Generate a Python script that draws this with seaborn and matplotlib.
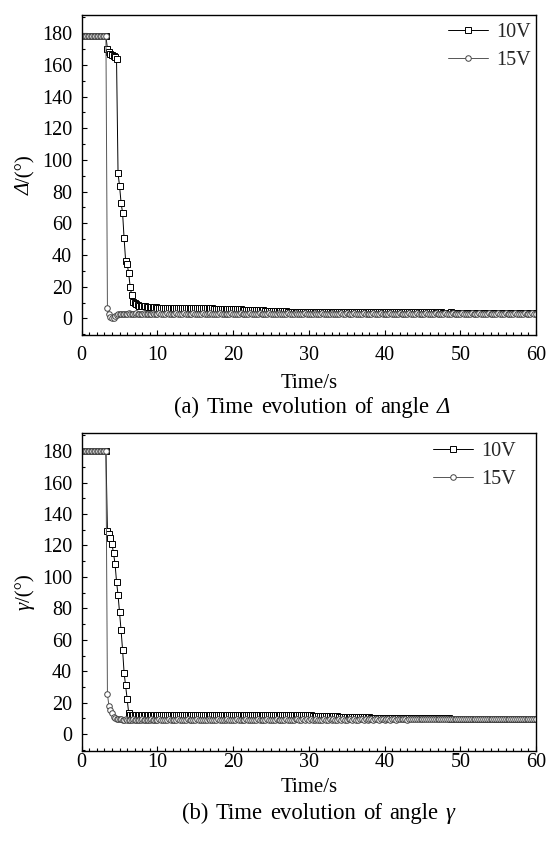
import numpy as np
import matplotlib
matplotlib.use("Agg")
import matplotlib.pyplot as plt
import matplotlib.transforms as mtransforms
from matplotlib.ticker import MultipleLocator
import seaborn as sns

# ---------------- data ----------------
# sample instants: 0.2 s steps up to 9.8 s, then 0.25 s steps to 60 s
time_fast = np.round(np.arange(50) * 0.2, 2)
time_tail = np.round(10.0 + np.arange(201) * 0.25, 2)
time_s = np.concatenate([time_fast, time_tail])

series_labels = ["10V", "15V"]

delta_10v_fast = [178, 178, 178, 178, 178, 178, 178, 178, 178, 178, 178, 178, 178, 178, 178, 178, 178,
                  170, 168, 167, 166, 165.5, 165, 163.5,
                  91.5, 83.5, 73, 66.5, 50.5, 36.5, 34.5, 28.5, 20, 14.5, 10.5,
                  9.5, 8.8, 8.4, 8.1, 7.9, 7.7, 7.6, 7.5, 7.4, 7.3, 7.2, 7.1, 7.0, 7.0, 6.9]
delta_10v_tail = [
    6.8, 6.8, 6.8, 6.7, 6.7, 6.7, 6.7, 6.6, 6.6, 6.6, 6.6, 6.6, 6.5, 6.5, 6.5, 6.5, 6.5, 6.5, 6.4, 6.4,
    6.4, 6.4, 6.4, 6.4, 6.3, 6.3, 6.3, 6.3, 6.3, 6.3, 6.2, 6.2, 6.2, 6.2, 6.2, 6.1, 6.1, 6.1, 6.1, 6.0,
    6.0, 6.0, 5.9, 5.9, 5.9, 5.3, 5.3, 5.2, 5.2, 5.2, 5.1, 5.1, 5.1, 5.0, 5.0, 5.0, 5.0, 4.9, 4.9, 4.9,
    4.9, 4.8, 4.8, 4.7, 4.5, 4.5, 4.4, 4.4, 4.4, 4.3, 4.3, 4.3, 4.3, 4.2, 4.2, 4.2, 4.2, 4.2, 4.2, 4.1,
    4.1, 4.2, 4.2, 4.1, 4.1, 4.1, 4.1, 4.0, 4.0, 4.1, 4.1, 4.1, 4.0, 4.0, 4.0, 4.0, 4.1, 4.0, 4.0, 4.0,
    4.0, 4.0, 4.1, 4.0, 4.0, 4.0, 3.9, 3.9, 4.0, 4.0, 4.0, 3.9, 3.9, 3.9, 4.0, 4.0, 3.9, 3.9, 3.9, 3.9,
    3.9, 4.0, 3.9, 3.9, 3.9, 3.9, 3.9, 3.9, 3.8, 3.9, 3.9, 3.9, 3.8, 3.8, 3.9, 3.9, 3.8, 3.8, 3.8, 3.8,
    3.8, 3.8, 3.8, 3.9, 3.8, 3.8, 3.8, 3.7, 3.8, 3.8, 3.8, 3.7, 3.7, 3.7, 3.7, 3.8, 3.7, 3.7, 3.7, 3.6,
    3.7, 3.7, 3.7, 3.6, 3.6, 3.6, 3.7, 3.6, 3.6, 3.6, 3.6, 3.6, 3.7, 3.6, 3.6, 3.6, 3.5, 3.6, 3.6, 3.6,
    3.6, 3.5, 3.5, 3.6, 3.6, 3.6, 3.5, 3.5, 3.6, 3.6, 3.6, 3.5, 3.6, 3.6, 3.5, 3.6, 3.6, 3.6, 3.5, 3.6,
    3.6]

delta_15v_fast = [178, 178, 178, 178, 178, 178, 178, 178, 178, 178, 178, 178, 178, 178, 178, 178, 178,
                  6.3, 2.7, 0.6, 0.0, 0.5, 1.5, 2.2, 2.6, 2.8, 2.9,
                  3.0, 3.0, 2.9, 3.0, 3.1, 3.0, 2.9, 3.0, 3.0, 3.1, 3.0, 2.9, 2.9, 3.0, 3.1,
                  3.0, 3.0, 2.9, 3.0, 3.0, 3.1, 3.0, 3.0]
delta_15v_tail = [
    3.0, 3.1, 3.0, 2.9, 3.0, 3.1, 3.0, 3.0, 2.9, 3.0, 3.1, 3.0, 2.9, 3.0, 3.1, 3.0, 3.0, 2.9, 3.0, 3.1,
    3.0, 2.9, 3.0, 3.0, 3.1, 3.0, 2.9, 3.0, 3.1, 3.0, 3.0, 2.9, 3.0, 3.1, 3.0, 3.0, 2.9, 3.0, 3.0, 3.1,
    3.0, 2.9, 3.0, 3.0, 3.1, 3.0, 2.9, 2.9, 3.0, 3.1, 3.0, 3.0, 2.9, 3.0, 3.1, 3.0, 2.9, 3.0, 3.0, 3.1,
    3.0, 2.9, 3.0, 3.0, 3.1, 3.0, 3.0, 2.9, 3.0, 3.1, 3.0, 2.9, 3.0, 3.1, 3.0, 2.9, 3.0, 3.0, 3.1, 3.0,
    2.9, 3.0, 3.0, 3.1, 3.0, 2.9, 3.0, 3.1, 3.0, 3.0, 2.9, 3.0, 3.1, 3.0, 3.0, 2.9, 3.0, 3.1, 3.0, 3.0,
    3.1, 3.0, 2.9, 3.0, 3.1, 3.0, 3.0, 2.9, 3.0, 3.1, 3.0, 2.9, 3.0, 3.0, 3.1, 3.0, 2.9, 3.0, 3.1, 3.0,
    3.0, 2.9, 3.0, 3.1, 3.0, 3.0, 2.9, 3.0, 3.1, 3.0, 2.9, 3.0, 3.0, 3.1, 3.0, 2.9, 3.0, 3.1, 3.0, 3.0,
    2.9, 3.0, 3.1, 3.0, 3.0, 2.9, 3.0, 3.1, 3.0, 2.9, 3.0, 3.0, 3.1, 3.0, 2.9, 3.0, 3.1, 3.0, 3.0, 2.9,
    3.0, 3.1, 3.0, 2.9, 3.0, 3.0, 3.1, 3.0, 2.9, 3.0, 3.1, 3.0, 3.0, 2.9, 3.0, 3.1, 3.0, 2.9, 3.0, 3.0,
    3.1, 3.0, 2.9, 3.0, 3.1, 3.0, 3.0, 2.9, 3.0, 3.1, 3.0, 2.9, 3.0, 3.0, 3.1, 3.0, 2.9, 3.0, 3.1, 3.0,
    3.0]

gamma_10v_fast = [180, 180, 180, 180, 180, 180, 180, 180, 180, 180, 180, 180, 180, 180, 180, 180, 180,
                  129, 127, 124.5, 121, 115, 108.5, 97, 88.5, 77.5, 66, 53.5, 39, 31, 22.5, 13.7, 12.5,
                  12.3, 12.2, 12.2, 12.3, 12.2, 12.1, 12.2, 12.3, 12.2, 12.2, 12.3, 12.2, 12.1, 12.2,
                  12.3, 12.2, 12.2]
gamma_10v_tail = [
    12.3, 12.2, 12.3, 12.3, 12.4, 12.3, 12.2, 12.3, 12.3, 12.4, 12.3, 12.2, 12.3, 12.4, 12.3, 12.3, 12.2, 12.3, 12.4, 12.3,
    12.3, 12.2, 12.3, 12.4, 12.3, 12.2, 12.3, 12.3, 12.4, 12.3, 12.2, 12.3, 12.3, 12.4, 12.3, 12.2, 12.3, 12.4, 12.3, 12.3,
    12.2, 12.3, 12.3, 12.4, 12.3, 12.2, 12.3, 12.3, 12.2, 12.3, 12.2, 12.3, 12.3, 12.2, 12.3, 12.2, 12.2, 12.3, 12.2, 12.2,
    12.2, 12.3, 12.2, 12.2, 12.1, 12.2, 12.2, 12.1, 12.2, 12.1, 12.1, 12.2, 12.1, 12.1, 12.0, 12.1, 12.0, 12.0, 12.0, 12.0,
    11.9, 11.9, 11.8, 11.8, 11.7, 11.7, 11.6, 11.6, 11.5, 11.5, 11.4, 11.4, 11.4, 11.3, 11.3, 11.3, 11.2, 11.2, 11.1, 11.1,
    11.0, 11.0, 11.0, 10.9, 10.9, 10.9, 10.8, 10.8, 10.8, 10.7, 10.7, 10.7, 10.7, 10.6, 10.6, 10.6, 10.6, 10.5, 10.5, 10.5,
    10.5, 10.5, 10.4, 10.4, 10.4, 10.4, 10.4, 10.3, 10.3, 10.3, 10.3, 10.3, 10.2, 10.2, 10.2, 10.2, 10.2, 10.2, 10.2, 10.1,
    10.1, 10.1, 10.1, 10.1, 10.1, 10.1, 10.0, 10.0, 10.0, 10.0, 10.0, 10.0, 10.0, 10.0, 10.0, 9.9, 9.9, 9.9, 9.9, 9.9,
    9.9, 9.9, 9.9, 9.9, 9.9, 9.9, 9.9, 9.8, 9.8, 9.8, 9.8, 9.8, 9.8, 9.8, 9.8, 9.8, 9.8, 9.8, 9.8, 9.8,
    9.8, 9.8, 9.8, 9.7, 9.7, 9.7, 9.7, 9.7, 9.7, 9.7, 9.7, 9.7, 9.7, 9.7, 9.7, 9.7, 9.7, 9.7, 9.7, 9.7,
    9.7]

gamma_15v_fast = [180, 180, 180, 180, 180, 180, 180, 180, 180, 180, 180, 180, 180, 180, 180, 180, 180,
                  25.3, 18, 15.4, 13.3, 11.2, 10.2, 9.7,
                  9.5, 9.4, 9.4, 9.3, 9.3, 9.4, 9.3, 9.2, 9.3, 9.3,
                  9.4, 9.3, 9.3, 9.2, 9.3, 9.3, 9.4, 9.3, 9.3, 9.2,
                  9.3, 9.3, 9.4, 9.3, 9.3, 9.2]
gamma_15v_tail = [
    9.3, 9.4, 9.3, 9.2, 9.3, 9.3, 9.4, 9.3, 9.2, 9.3, 9.3, 9.4, 9.3, 9.3, 9.2, 9.3, 9.4, 9.3, 9.3, 9.2,
    9.3, 9.4, 9.3, 9.3, 9.2, 9.3, 9.3, 9.4, 9.3, 9.2, 9.3, 9.3, 9.4, 9.3, 9.2, 9.3, 9.3, 9.4, 9.3, 9.3,
    9.2, 9.3, 9.4, 9.3, 9.3, 9.2, 9.3, 9.4, 9.3, 9.3, 9.3, 9.2, 9.3, 9.4, 9.3, 9.3, 9.2, 9.3, 9.4, 9.3,
    9.3, 9.2, 9.3, 9.4, 9.3, 9.3, 9.2, 9.3, 9.4, 9.3, 9.3, 9.2, 9.3, 9.4, 9.4, 9.3, 9.3, 9.4, 9.3, 9.4,
    9.3, 9.4, 9.3, 9.3, 9.4, 9.3, 9.2, 9.3, 9.4, 9.3, 9.3, 9.4, 9.3, 9.4, 9.3, 9.3, 9.4, 9.3, 9.4, 9.3,
    9.3, 9.4, 9.4, 9.3, 9.4, 9.3, 9.3, 9.4, 9.4, 9.3, 9.4, 9.3, 9.4, 9.4, 9.3, 9.4, 9.4, 9.3, 9.4, 9.4,
    9.3, 9.4, 9.4, 9.3, 9.4, 9.4, 9.3, 9.4, 9.4, 9.5, 9.4, 9.4, 9.3, 9.4, 9.4, 9.5, 9.4, 9.4, 9.4, 9.5,
    9.4, 9.4, 9.5, 9.4, 9.4, 9.4, 9.5, 9.4, 9.4, 9.5, 9.4, 9.5, 9.4, 9.4, 9.5, 9.4, 9.5, 9.4, 9.4, 9.5,
    9.4, 9.5, 9.4, 9.5, 9.5, 9.4, 9.5, 9.4, 9.5, 9.5, 9.4, 9.5, 9.5, 9.4, 9.5, 9.5, 9.4, 9.5, 9.5, 9.4,
    9.5, 9.5, 9.4, 9.5, 9.5, 9.5, 9.4, 9.5, 9.5, 9.5, 9.4, 9.5, 9.5, 9.5, 9.5, 9.4, 9.5, 9.5, 9.5, 9.5,
    9.5]

delta_10v = np.array(delta_10v_fast + delta_10v_tail)
delta_15v = np.array(delta_15v_fast + delta_15v_tail)
gamma_10v = np.array(gamma_10v_fast + gamma_10v_tail)
gamma_15v = np.array(gamma_15v_fast + gamma_15v_tail)
for arr in (delta_10v, delta_15v, gamma_10v, gamma_15v):
    assert len(arr) == len(time_s), len(arr)

# ---------------- style ----------------
sns.set_style("ticks")
plt.rcParams["font.family"] = ["Liberation Serif", "DejaVu Serif"]
plt.rcParams["axes.unicode_minus"] = False

W, H = 549, 842
fig = plt.figure(figsize=(W / 100, H / 100), dpi=100)
fig.patch.set_facecolor("white")


def px_axes(left, top, right, bottom):
    return fig.add_axes([left / W, 1 - bottom / H, (right - left) / W, (bottom - top) / H])


ax1 = px_axes(81.7, 15, 536, 335)
ax2 = px_axes(81.7, 433, 536, 750.7)

TICK_FS = 14.5
LABEL_FS = 15
CAP_FS = 16.3
ident = mtransforms.IdentityTransform()


def draw_panel(ax, y10, y15, xpad, xlabel_off):
    sns.lineplot(x=time_s, y=y10, ax=ax, color="black", lw=0.7, marker="s",
                 markersize=3.8, markerfacecolor="white", markeredgecolor="black",
                 markeredgewidth=0.7, label=series_labels[0], sort=False, estimator=None)
    sns.lineplot(x=time_s, y=y15, ax=ax, color="#555555", lw=0.7, marker="o",
                 markersize=4.0, markerfacecolor="white", markeredgecolor="#444444",
                 markeredgewidth=0.7, label=series_labels[1], sort=False, estimator=None)
    ax.set_xlim(0, 60)
    ax.set_ylim(-10.5, 191.5)
    ax.xaxis.set_major_locator(MultipleLocator(10))
    ax.xaxis.set_minor_locator(MultipleLocator(1))
    ax.yaxis.set_major_locator(MultipleLocator(20))
    ax.yaxis.set_minor_locator(MultipleLocator(10))
    ax.tick_params(which="both", direction="in", top=False, right=False,
                   labelsize=TICK_FS, width=0.8, color="black", labelcolor="black")
    ax.tick_params(which="major", length=3.5)
    ax.tick_params(which="minor", length=2.0)
    ax.tick_params(axis="x", which="major", pad=xpad)
    ax.tick_params(axis="y", which="major", pad=7)
    for s in ax.spines.values():
        s.set_linewidth(1.0)
        s.set_color("black")
    ax.set_facecolor("white")
    ax.grid(False)
    ax.set_ylabel("")
    ax.set_xlabel("Time/s", fontsize=LABEL_FS, color="black")
    h_px = ax.get_position().height * H
    ax.xaxis.set_label_coords(0.5, -xlabel_off / h_px)
    ax.xaxis.label.set_va("center")


draw_panel(ax1, delta_10v, delta_15v, xpad=8.0, xlabel_off=48)
draw_panel(ax2, gamma_10v, gamma_15v, xpad=2.0, xlabel_off=37)

ax1.legend(loc="upper right", bbox_to_anchor=(0.989, 0.974), frameon=False,
           fontsize=TICK_FS, handlelength=2.0, handletextpad=0.4, labelspacing=0.43,
           borderaxespad=0, borderpad=0)
ax2.legend(loc="upper right", bbox_to_anchor=(0.956, 0.972), frameon=False,
           fontsize=TICK_FS, handlelength=2.0, handletextpad=0.4, labelspacing=0.43,
           borderaxespad=0, borderpad=0)

renderer = fig.canvas.get_renderer()


def text_width(s, size, style):
    t = fig.text(0, 0, s, fontsize=size, fontstyle=style, transform=ident)
    w = t.get_window_extent(renderer).width
    t.remove()
    return w


def mixed_text(parts, cx, cy_base, size, rotation=0, space_scale=1.0):
    """parts: list of (text, style); a None text means a word space."""
    sp = (text_width("a b", size, "normal") - text_width("ab", size, "normal")) * space_scale
    widths = [sp if s is None else text_width(s, size, st) for s, st in parts]
    total = sum(widths)
    pos = -total / 2
    for (s, st), w in zip(parts, widths):
        if s is not None:
            if rotation == 0:
                fig.text(cx + pos, H - cy_base, s, fontsize=size, fontstyle=st,
                         ha="left", va="baseline", transform=ident, color="black")
            else:
                fig.text(cx, (H - cy_base) + pos, s, fontsize=size, fontstyle=st,
                         rotation=90, rotation_mode="anchor", ha="left", va="baseline",
                         transform=ident, color="black")
        pos += w


def caption(words, last_italic, cx, cy_base):
    parts = []
    for w in words:
        parts += [(w, "normal"), (None, None)]
    parts.append((last_italic, "italic"))
    mixed_text(parts, cx, cy_base, CAP_FS, space_scale=1.3)


# y labels (baseline x, centred on each axes)
mixed_text([("\u0394", "italic"), ("/(\u00b0)", "normal")], 30, 175, LABEL_FS, rotation=90)
mixed_text([("\u03b3", "italic"), ("/(\u00b0)", "normal")], 30, 592, LABEL_FS, rotation=90)

# captions (baseline y in pixels from top)
caption(["(a)", "Time", "evolution", "of", "angle"], "\u0394", 312, 413)
caption(["(b)", "Time", "evolution", "of", "angle"], "\u03b3", 318, 819)

fig.savefig("out.png", dpi=100, facecolor="white")
